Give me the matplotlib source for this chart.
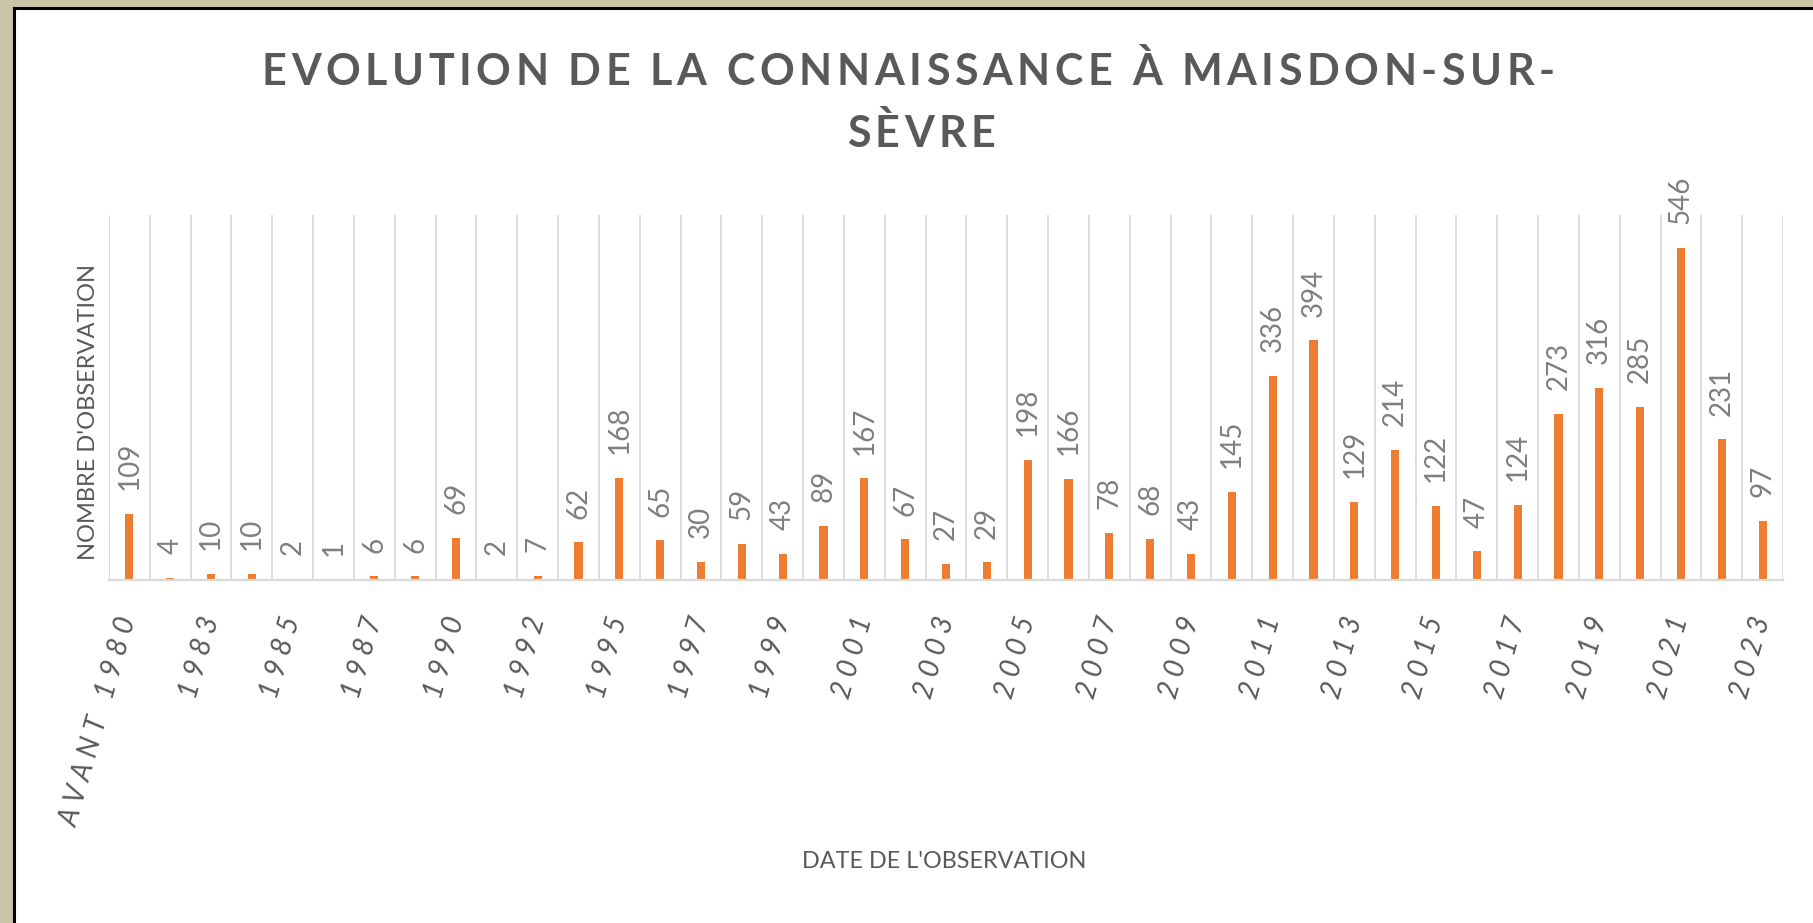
import numpy as np
import matplotlib
matplotlib.use("Agg")
import matplotlib.pyplot as plt
from matplotlib.patches import Rectangle
from matplotlib.lines import Line2D
from matplotlib import font_manager
from matplotlib.ft2font import FT2Font

categories = ["Avant 1980", "1981", "1983", "1984", "1985", "1986", "1987", "1988",
              "1990", "1991", "1992", "1993", "1995", "1996", "1997", "1998", "1999",
              "2000", "2001", "2002", "2003", "2004", "2005", "2006", "2007", "2008",
              "2009", "2010", "2011", "2012", "2013", "2014", "2015", "2016", "2017",
              "2018", "2019", "2020", "2021", "2022", "2023"]
values = [109, 4, 10, 10, 2, 1, 6, 6, 69, 2, 7, 62, 168, 65, 30, 59, 43, 89, 167, 67,
          27, 29, 198, 166, 78, 68, 43, 145, 336, 394, 129, 214, 122, 47, 124, 273,
          316, 285, 546, 231, 97]

title_lines = ["EVOLUTION DE LA CONNAISSANCE À MAISDON-SUR-", "SÈVRE"]
ylabel = "NOMBRE D'OBSERVATION"
xlabel = "DATE DE L'OBSERVATION"

W, H = 1813, 923
DPI = 100
fig = plt.figure(figsize=(W / DPI, H / DPI), dpi=DPI)
fig.patch.set_facecolor("white")

# frame: beige strip + black border
fig.patches.append(Rectangle((0, 0), 1, 1, transform=fig.transFigure,
                             facecolor="#CBC3A6", edgecolor="none", zorder=-3))
fig.patches.append(Rectangle((15 / W, 0), 1, 1 - 9 / H, transform=fig.transFigure,
                             facecolor="white", edgecolor="none", zorder=-2))
fig.lines.append(Line2D([14 / W, 14 / W], [0, 1 - 8 / H], transform=fig.transFigure,
                        color="black", lw=2.2))
fig.lines.append(Line2D([14 / W, 1], [1 - 8 / H, 1 - 8 / H], transform=fig.transFigure,
                        color="black", lw=2.2))


def tracked_text(s, cx_px, baseline_px, size, tracking_px, **kw):
    """Draw horizontal text with extra letter spacing, centred at cx_px."""
    fp = font_manager.FontProperties(family="Lato", weight=kw.get("fontweight", "normal"))
    path = font_manager.findfont(fp)
    ft = FT2Font(path)
    ft.set_size(size, DPI)
    adv = []
    for ch in s:
        g = ft.load_char(ord(ch))
        adv.append(g.linearHoriAdvance / 65536.0)
    total = sum(adv) + tracking_px * (len(s) - 1)
    x = cx_px - total / 2.0
    for ch, a in zip(s, adv):
        if ch != " ":
            fig.text(x / W, 1 - baseline_px / H, ch, ha="left", va="baseline",
                     fontsize=size, family="Lato", **kw)
        x += a + tracking_px


ax = fig.add_axes([109 / W, 1 - 580 / H, (1783 - 109) / W, (580 - 215) / H])
ax.set_facecolor("none")
x = np.arange(len(values))
ax.bar(x, values, width=0.2, color="#ED7D31", zorder=3)
ax.set_xlim(-0.5, len(values) - 0.5)
ax.set_ylim(0, 600)
ax.set_yticks([])

for i, v in enumerate(values):
    ax.annotate(str(v), (i, v), xytext=(0, 17), textcoords="offset points",
                rotation=90, ha="center", va="bottom", fontsize=20,
                family="Lato", color="#7F7F7F")

ax.set_xticks(np.arange(-0.5, len(values), 1), minor=True)
ax.grid(which="minor", axis="x", color="#D9D9D9", lw=1.3, zorder=0)
ax.grid(which="major", visible=False)
major = np.arange(0, len(values), 2)
ax.set_xticks(major)


def spaced(s):
    return " ".join(list(s.upper().replace(" ", "")))


labels = []
for i in major:
    c = categories[i]
    if c.startswith("Avant"):
        labels.append(spaced("AVANT") + "   " + spaced("1980"))
    else:
        labels.append(spaced(c))
ax.set_xticklabels(labels, rotation=74, ha="right", va="center",
                   rotation_mode="anchor", fontsize=20, family="Lato",
                   style="italic", color="#595959")
ax.tick_params(axis="x", which="both", length=0, pad=27)
for s in ["top", "left", "right"]:
    ax.spines[s].set_visible(False)
ax.spines["bottom"].set_color("#D9D9D9")
ax.spines["bottom"].set_linewidth(1.6)
ax.spines["bottom"].set_zorder(4)

tracked_text(title_lines[0], 908, 85, 31, 4.6, fontweight="bold", color="#595959")
tracked_text(title_lines[1], 921, 147, 31, 4.6, fontweight="bold", color="#595959")

fig.text(89 / W, 1 - 412 / H, ylabel, rotation=90, ha="center", va="center",
         fontsize=17, family="Lato", color="#595959")
fig.text(944 / W, 1 - 861 / H, xlabel, ha="center", va="center",
         fontsize=16.8, family="Lato", color="#595959")

fig.savefig("out.png", dpi=DPI)
